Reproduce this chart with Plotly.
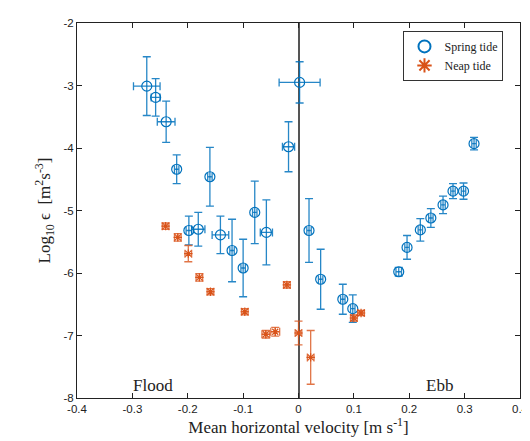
import plotly.graph_objects as go

# Spring tide
spring_x = [-0.274, -0.258, -0.239, -0.220, -0.198, -0.181, -0.160, -0.141, -0.120, -0.100,
            -0.079, -0.058, -0.018, 0.002, 0.019, 0.040, 0.080, 0.098, 0.181, 0.196,
            0.220, 0.239, 0.261, 0.279, 0.298, 0.317]
spring_y = [-3.01, -3.19, -3.58, -4.34, -5.32, -5.30, -4.46, -5.39, -5.64, -5.92,
            -5.03, -5.35, -3.98, -2.95, -5.32, -6.10, -6.42, -6.57, -5.98, -5.59,
            -5.31, -5.12, -4.91, -4.69, -4.69, -3.93]
spring_yerr = [0.47, 0.30, 0.33, 0.23, 0.23, 0.27, 0.47, 0.30, 0.50, 0.46,
               0.50, 0.52, 0.40, 0.33, 0.51, 0.48, 0.24, 0.22, 0.07, 0.19,
               0.18, 0.15, 0.14, 0.12, 0.13, 0.10]
spring_xerr = [0.024, 0.008, 0.016, 0.004, 0.005, 0.012, 0.004, 0.015, 0.004, 0.004,
               0.004, 0.011, 0.011, 0.037, 0.004, 0.004, 0.004, 0.004, 0.005, 0.004,
               0.004, 0.004, 0.004, 0.004, 0.004, 0.004]

# Neap tide
neap_x = [-0.240, -0.218, -0.199, -0.179, -0.159, -0.097, -0.059, -0.042, -0.021, 0.000,
          0.022, 0.100, 0.113]
neap_y = [-5.25, -5.43, -5.69, -6.07, -6.30, -6.62, -6.98, -6.94, -6.19, -6.96,
          -7.35, -6.72, -6.64]
neap_yerr = [0.05, 0.06, 0.13, 0.06, 0.05, 0.05, 0.06, 0.07, 0.05, 0.19,
             0.43, 0.05, 0.04]
neap_xerr = [0.006, 0.006, 0.006, 0.006, 0.006, 0.006, 0.007, 0.008, 0.006, 0.006,
             0.006, 0.006, 0.006]

x_ticks = [-0.4, -0.3, -0.2, -0.1, 0, 0.1, 0.2, 0.3, 0.4]
x_ticklabels = ["-0.4", "-0.3", "-0.2", "-0.1", "0", "0.1", "0.2", "0.3", "0.4"]
y_ticks = [-8, -7, -6, -5, -4, -3, -2]
y_ticklabels = ["-8", "-7", "-6", "-5", "-4", "-3", "-2"]

blue = "#0072BD"
orange = "#D95319"

fig = go.Figure()
fig.add_trace(go.Scatter(
    x=spring_x, y=spring_y, mode="markers", name="Spring tide",
    marker=dict(symbol="circle-open", size=10, color=blue, line=dict(width=1.2, color=blue)),
    error_y=dict(type="data", array=spring_yerr, color="rgba(0,114,189,0.85)", thickness=1.3, width=4),
    error_x=dict(type="data", array=spring_xerr, color="rgba(0,114,189,0.85)", thickness=1.3, width=4),
))
fig.add_trace(go.Scatter(
    x=neap_x, y=neap_y, mode="markers", name="Neap tide",
    marker=dict(symbol="asterisk-open", size=7, color=orange, line=dict(width=1.2, color=orange)),
    error_y=dict(type="data", array=neap_yerr, color="rgba(217,83,25,0.8)", thickness=1.3, width=4),
    error_x=dict(type="data", array=neap_xerr, color="rgba(217,83,25,0.8)", thickness=1.3, width=4),
))

fig.add_annotation(x=-0.262, y=-7.80, text="Flood", showarrow=False, xref="x", yref="y",
                   font=dict(family="Liberation Serif", size=17, color="#222"))
fig.add_annotation(x=0.255, y=-7.80, text="Ebb", showarrow=False, xref="x", yref="y",
                   font=dict(family="Liberation Serif", size=17, color="#222"))

fig.update_layout(
    width=530, height=441,
    margin=dict(l=69, r=9, t=11, b=51),
    paper_bgcolor="white", plot_bgcolor="white",
    font=dict(family="Liberation Sans", size=11.5, color="#222"),
    legend=dict(x=0.737, y=0.979, xanchor="left", yanchor="top",
                bgcolor="white", bordercolor="#333", borderwidth=1,
                font=dict(family="Liberation Serif", size=12, color="#222"),
                itemsizing="constant"),
    xaxis=dict(
        range=[-0.4, 0.4], tickvals=x_ticks, ticktext=x_ticklabels,
        ticks="inside", ticklen=5, tickcolor="#222", showline=True, linecolor="#222", linewidth=1,
        mirror="ticks", showgrid=False, zeroline=True, zerolinecolor="#555", zerolinewidth=1.5,
        ticklabeloverflow="allow",
        title=dict(text="Mean horizontal velocity [m s<sup>-1</sup>]", standoff=2,
                   font=dict(family="Liberation Serif", size=17, color="#222")),
        tickfont=dict(family="Liberation Sans", size=11.5, color="#222"),
    ),
    yaxis=dict(
        range=[-8, -2], tickvals=y_ticks, ticktext=y_ticklabels,
        ticks="inside", ticklen=5, tickcolor="#222", showline=True, linecolor="#222", linewidth=1,
        mirror="ticks", showgrid=False, zeroline=False,
        title=dict(text="Log<sub>10</sub> ϵ  [m<sup>2</sup>s<sup>-3</sup>]", standoff=8,
                   font=dict(family="Liberation Serif", size=17, color="#222")),
        tickfont=dict(family="Liberation Sans", size=11.5, color="#222"),
    ),
)

fig.write_html("out.html")
